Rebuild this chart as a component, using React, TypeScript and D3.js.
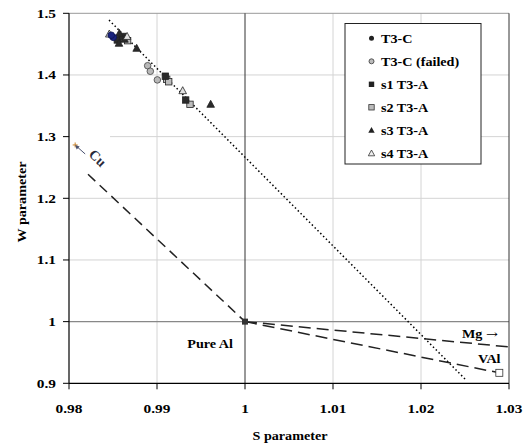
import React from "react";
import * as d3 from "d3";

const xTicks = [0.98, 0.99, 1.0, 1.01, 1.02, 1.03];
const yTicks = [0.9, 1.0, 1.1, 1.2, 1.3, 1.4, 1.5];
const xTickLabels = ["0.98", "0.99", "1", "1.01", "1.02", "1.03"];
const yTickLabels = ["0.9", "1", "1.1", "1.2", "1.3", "1.4", "1.5"];

const t3c: [number, number][] = [[0.98503, 1.461], [0.9848, 1.4645]];
const t3cFailed: [number, number][] = [[0.98894, 1.415], [0.98924, 1.406], [0.99004, 1.392], [0.9858, 1.458]];
const s1: [number, number][] = [[0.98549, 1.4567], [0.9861, 1.4625], [0.99095, 1.398], [0.99326, 1.3594]];
const s2: [number, number][] = [[0.98617, 1.4595], [0.98666, 1.4556], [0.9911, 1.393], [0.99133, 1.389], [0.99375, 1.3524]];
const s3: [number, number][] = [[0.98572, 1.4675], [0.98568, 1.4514], [0.98769, 1.4432], [0.9961, 1.3524], [0.9863, 1.458]];
const s4: [number, number][] = [[0.98458, 1.4664], [0.99292, 1.3745], [0.9866, 1.4625]];

const trendLine: [number, number][] = [[0.98455, 1.489], [1.025, 0.907]];
const cuLine: [number, number][] = [[0.98216, 1.239], [1.0, 1.0]];
const mgLine: [number, number][] = [[1.0, 1.0], [1.03, 0.959]];
const valLine: [number, number][] = [[1.0, 1.0], [1.0289, 0.917]];
const cuPoint: [number, number] = [0.9807, 1.2865];

const legendLabels = ["T3-C", "T3-C (failed)", "s1 T3-A", "s2 T3-A", "s3 T3-A", "s4 T3-A"];

const FONT = "Liberation Serif, DejaVu Serif, serif";
const SX = 1.18;

function T(props: { x: number; y: number; size: number; anchor?: string; children: React.ReactNode; fill?: string }) {
  const { x, y, size, anchor = "start", children, fill = "#000" } = props;
  return (
    <text
      transform={`translate(${x},${y}) scale(${SX},1)`}
      textAnchor={anchor}
      fontSize={size}
      fill={fill}
      style={{ fontFamily: FONT, fontWeight: 700 }}
    >
      {children}
    </text>
  );
}

export default function App() {
  const x = d3.scaleLinear().domain([0.98, 1.03]).range([69, 509]);
  const y = d3.scaleLinear().domain([0.9, 1.5]).range([383.3, 13.3]);
  const line = d3.line<[number, number]>().x(d => x(d[0])).y(d => y(d[1]));

  const circle = (d: [number, number], fill: string, stroke: string, key: string) => (
    <circle key={key} cx={x(d[0])} cy={y(d[1])} r={3.3} fill={fill} stroke={stroke} strokeWidth={0.8} />
  );
  const square = (d: [number, number], fill: string, key: string) => (
    <rect key={key} x={x(d[0]) - 3.2} y={y(d[1]) - 3.2} width={6.4} height={6.4} fill={fill} stroke="#222" strokeWidth={0.8} />
  );
  const tri = (d: [number, number], fill: string, key: string) => {
    const cx = x(d[0]), cy = y(d[1]);
    return <path key={key} d={`M${cx},${cy - 4}L${cx + 3.8},${cy + 3}L${cx - 3.8},${cy + 3}Z`} fill={fill} stroke="#222" strokeWidth={0.8} />;
  };

  const legendMarker = (i: number, cx: number, cy: number) => {
    switch (i) {
      case 0: return <circle cx={cx} cy={cy} r={2.5} fill="#222" />;
      case 1: return <circle cx={cx} cy={cy} r={2.5} fill="#bbb" stroke="#333" strokeWidth={0.8} />;
      case 2: return <rect x={cx - 2.7} y={cy - 2.7} width={5.4} height={5.4} fill="#222" />;
      case 3: return <rect x={cx - 2.7} y={cy - 2.7} width={5.4} height={5.4} fill="#bbb" stroke="#333" strokeWidth={0.8} />;
      case 4: return <path d={`M${cx},${cy - 3.3}L${cx + 3.2},${cy + 2.5}L${cx - 3.2},${cy + 2.5}Z`} fill="#222" />;
      default: return <path d={`M${cx},${cy - 3.3}L${cx + 3.2},${cy + 2.5}L${cx - 3.2},${cy + 2.5}Z`} fill="#eee" stroke="#333" strokeWidth={0.8} />;
    }
  };

  const gridY = [1.1, 1.2, 1.3, 1.4];
  const gridX = [0.99, 1.01, 1.02];
  const cx0 = x(cuPoint[0]), cy0 = y(cuPoint[1]);

  return (
    <svg width={528} height={444} style={{ position: "absolute", left: 0, top: 0, background: "#fff" }}>
      {gridY.map(v => (
        <line key={"gy" + v} x1={x(0.98)} x2={x(1.03)} y1={y(v)} y2={y(v)} stroke="#d4d4d4" strokeWidth={1} />
      ))}
      {gridX.map(v => (
        <line key={"gx" + v} x1={x(v)} x2={x(v)} y1={y(0.9)} y2={y(1.5)} stroke="#d4d4d4" strokeWidth={1} />
      ))}
      <line x1={x(0.98)} x2={x(1.03)} y1={y(1.5)} y2={y(1.5)} stroke="#999" strokeWidth={1} />
      <line x1={x(0.98)} x2={x(1.03)} y1={y(1.0)} y2={y(1.0)} stroke="#888" strokeWidth={1.2} />
      <line x1={x(1.0)} x2={x(1.0)} y1={y(0.9)} y2={y(1.5)} stroke="#333" strokeWidth={1} />
      <line x1={x(1.03)} x2={x(1.03)} y1={y(0.9)} y2={y(1.5)} stroke="#333" strokeWidth={1} />

      <rect x={70} y={130} width={40} height={12} fill="#fff" />

      <line x1={x(0.98)} x2={x(0.98)} y1={y(0.9)} y2={y(1.5)} stroke="#000" strokeWidth={1.2} />
      <line x1={x(0.98)} x2={x(1.03)} y1={y(0.9)} y2={y(0.9)} stroke="#000" strokeWidth={1.2} />
      {yTicks.map((v, i) => (
        <g key={"yt" + v}>
          <line x1={x(0.98) - 6} x2={x(0.98)} y1={y(v)} y2={y(v)} stroke="#000" strokeWidth={1} />
          <T x={56} y={y(v) + 4.5} size={13} anchor="end">{yTickLabels[i]}</T>
        </g>
      ))}
      {xTicks.map((v, i) => (
        <g key={"xt" + v}>
          <line x1={x(v)} x2={x(v)} y1={y(0.9)} y2={y(0.9) + 6} stroke="#000" strokeWidth={1} />
          <T x={x(v)} y={413} size={13} anchor="middle">{xTickLabels[i]}</T>
        </g>
      ))}
      <T x={290} y={440} size={12} anchor="middle">S parameter</T>
      <text transform="translate(26,202) rotate(-90) scale(1.18,1)" textAnchor="middle" fontSize={12} style={{ fontFamily: FONT, fontWeight: 700 }}>W parameter</text>

      <path d={line(trendLine) || ""} fill="none" stroke="#000" strokeWidth={1.5} strokeDasharray="1.5 2.5" />
      <path d={line(cuLine) || ""} fill="none" stroke="#222" strokeWidth={1.5} strokeDasharray="10 6" />
      <path d={line(mgLine) || ""} fill="none" stroke="#222" strokeWidth={1.5} strokeDasharray="12 6" />
      <path d={line(valLine) || ""} fill="none" stroke="#222" strokeWidth={1.5} strokeDasharray="12 6" />
      <rect x={x(1.0) - 3} y={y(1.0) - 3} width={6} height={6} fill="#333" />
      <rect x={x(valLine[1][0]) - 3.5} y={y(valLine[1][1]) - 3.5} width={7} height={7} fill="#fff" stroke="#333" strokeWidth={0.8} />

      {/* Cu marker, arrow and label */}
      <line x1={cx0 - 2.5} x2={cx0 + 2.5} y1={cy0} y2={cy0} stroke="#c8822a" strokeWidth={1} />
      <line x1={cx0} x2={cx0} y1={cy0 - 2.5} y2={cy0 + 2.5} stroke="#c8822a" strokeWidth={1} />
      <line x1={cx0 + 1} y1={cy0 + 1} x2={cx0 + 10} y2={cy0 + 9} stroke="#4a5270" strokeWidth={1} />
      <path d={`M${cx0},${cy0}L${cx0 + 4.5},${cy0 + 1.5}L${cx0 + 1.5},${cy0 + 4.5}Z`} fill="#4a5270" />
      <text transform="translate(88,155) rotate(45)" fontSize={14} fill="#2a2a3a" style={{ fontFamily: FONT, fontWeight: 700 }}>Cu</text>

      <T x={233} y={348} size={12} anchor="end">Pure Al</T>
      <text transform="translate(462,338) scale(1.18,1)" fontSize={12} style={{ fontFamily: FONT, fontWeight: 700 }}>
        Mg <tspan fontSize={12} style={{ fontWeight: 400, fontFamily: "DejaVu Serif, serif" }}>→</tspan>
      </text>
      <T x={478} y={363} size={12}>VAl</T>

      {t3cFailed.map((d, i) => circle(d, "#b8b8b8", "#444", "f" + i))}
      {s2.map((d, i) => square(d, "#bdbdbd", "s2" + i))}
      {s1.map((d, i) => square(d, "#2a2a2a", "s1" + i))}
      {s3.map((d, i) => tri(d, "#2a2a2a", "s3" + i))}
      {s4.map((d, i) => tri(d, "#e0e0e0", "s4" + i))}
      {t3c.map((d, i) => circle(d, "#1a237e", "#0d1450", "c" + i))}

      <rect x={345} y={23.5} width={136} height={140.5} fill="#fff" stroke="#222" strokeWidth={1} />
      {legendLabels.map((l, i) => (
        <g key={"lg" + i}>
          {legendMarker(i, 371.5, 38.3 + i * 23)}
          <T x={381} y={38.3 + i * 23 + 4.2} size={12}>{l}</T>
        </g>
      ))}
    </svg>
  );
}
